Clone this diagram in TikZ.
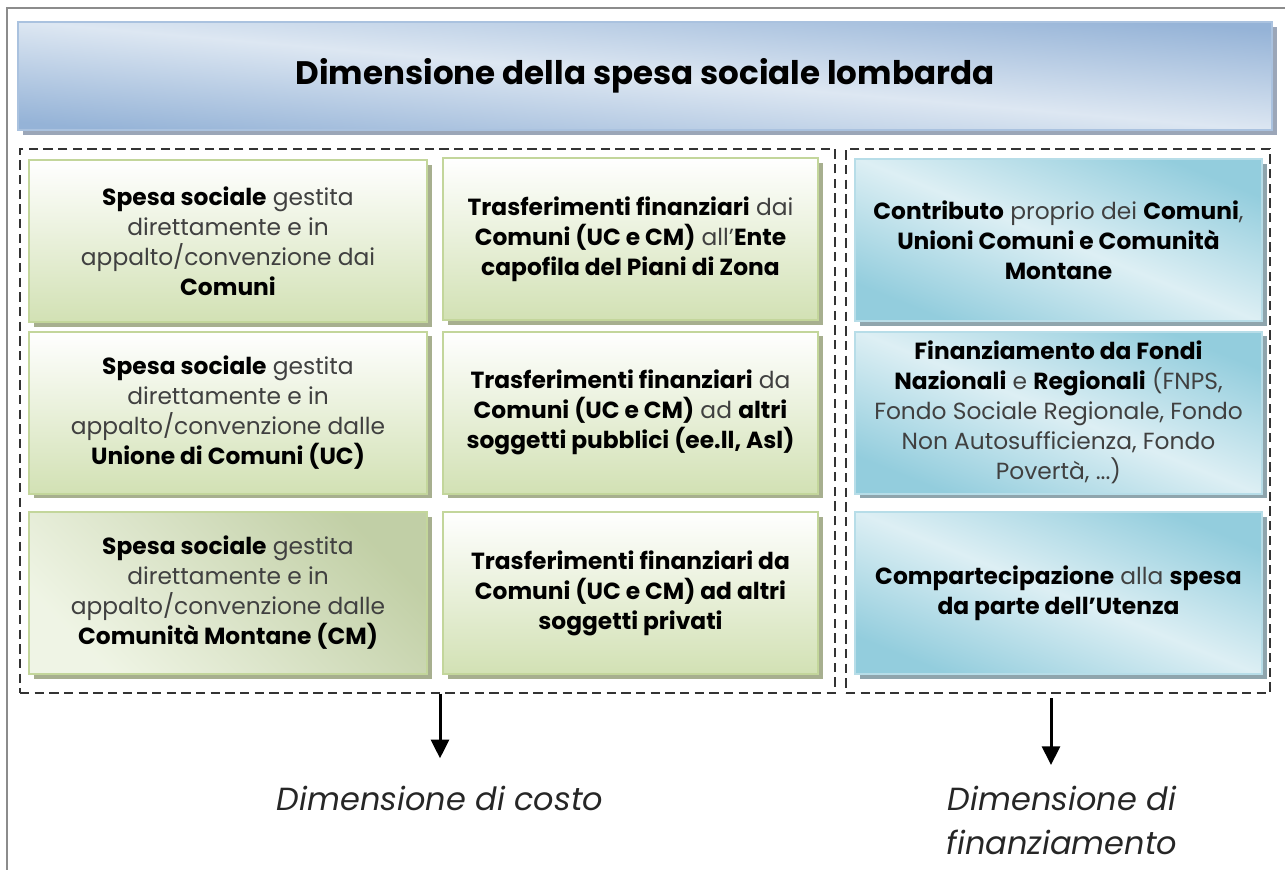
\documentclass[tikz,border=0pt]{standalone}
\usepackage{fontspec}
\setmainfont{Poppins}
\usetikzlibrary{shadows,arrows.meta}

\definecolor{framegray}{RGB}{140,140,140}
\definecolor{titledark}{RGB}{149,179,215}
\definecolor{titlelight}{RGB}{221,231,242}
\definecolor{titleshadow}{RGB}{155,166,184}
\definecolor{greendark}{RGB}{210,225,180}
\definecolor{greenline}{RGB}{195,214,155}
\definecolor{greenshadow}{RGB}{167,175,143}
\definecolor{bluedark}{RGB}{147,205,221}
\definecolor{bluelight}{RGB}{221,239,244}
\definecolor{blueline}{RGB}{183,221,232}
\definecolor{blueshadow}{RGB}{143,165,173}

\newcommand{\bt}[1]{\textbf{\color{black}#1}}

\tikzset{
  boxtext/.style={align=center, text=black!75, font=\fontsize{17.5}{22.5}\selectfont},
  titlebox/.style={draw=titledark!80, line width=1pt, top color=titledark, bottom color=titledark, middle color=titlelight, shading angle=-5,
    minimum width=940.5pt, minimum height=81pt,
    drop shadow={fill=titleshadow, opacity=1, shadow xshift=3.5pt, shadow yshift=-3.5pt},
    font=\fontsize{24.4}{28}\selectfont\bfseries},
  greenbox/.style={boxtext, draw=greenline, line width=1.5pt, top color=white, bottom color=greendark,
    minimum height=121.5pt,
    drop shadow={fill=greenshadow, opacity=1, shadow xshift=3.5pt, shadow yshift=-3.5pt}},
  bluebox/.style={boxtext, draw=blueline, line width=1.5pt, top color=bluedark, bottom color=bluedark, middle color=bluelight, shading angle=-22,
    minimum width=305.25pt, minimum height=121.5pt,
    drop shadow={fill=blueshadow, opacity=1, shadow xshift=3.5pt, shadow yshift=-3.5pt}},
  dashbox/.style={draw=black!80, line width=1pt, dash pattern=on 7pt off 4pt, minimum height=408pt},
  labeltext/.style={align=center, text=black!85, font=\fontsize{24}{33}\selectfont\itshape},
  arr/.style={-{Triangle[width=13.5pt,length=14pt]}, line width=2.25pt}
}

\begin{document}
\begin{tikzpicture}[x=0.75pt,y=0.75pt,yscale=-1,xscale=1]
\useasboundingbox (0,0) rectangle (1285,870);

%Straight Lines [frame]
\draw [framegray, line width=1.5pt] (7,870) -- (7,8) -- (1285,8) ;

%Shape: Rectangle [title]
\node [titlebox] (title) at (645,76) {Dimensione della spesa sociale lombarda};

%Shape: Rectangle [dashed groups]
\node [dashbox, minimum width=611.25pt] (costo) at (427.5,421) {};
\node [dashbox, minimum width=318pt] (fin) at (1058,421) {};

%Shape: Rectangle [column 1]
\node [greenbox, minimum width=298.5pt] (com) at (228,241) {\bt{Spesa sociale} gestita\\ direttamente e in\\ appalto/convenzione dai\\ \bt{Comuni}};
\node [greenbox, minimum width=298.5pt] (uc) at (228,412.5) {\bt{Spesa sociale} gestita\\ direttamente e in\\ appalto/convenzione dalle\\ \bt{Unione di Comuni (UC)}};
\node [greenbox, minimum width=298.5pt, top color=greendark!92!black, bottom color=greendark!35!white, shading angle=-45] (cm) at (228,593) {\bt{Spesa sociale} gestita\\ direttamente e in\\ appalto/convenzione dalle\\ \bt{Comunità Montane (CM)}};

%Shape: Rectangle [column 2]
\node [greenbox, minimum width=281.25pt] (ente) at (630.5,239) {\bt{Trasferimenti finanziari} dai\\ \bt{Comuni (UC e CM)} all’\bt{Ente}\\ \bt{capofila del Piani di Zona}};
\node [greenbox, minimum width=281.25pt] (pub) at (630.5,412.5) {\bt{Trasferimenti finanziari} da\\ \bt{Comuni (UC e CM)} ad \bt{altri}\\ \bt{soggetti pubblici (ee.ll, Asl)}};
\node [greenbox, minimum width=281.25pt] (priv) at (630.5,593) {\bt{Trasferimenti finanziari da}\\ \bt{Comuni (UC e CM) ad altri}\\ \bt{soggetti privati}};

%Shape: Rectangle [column 3]
\node [bluebox] (contr) at (1058.5,240) {\bt{Contributo} proprio dei \bt{Comuni},\\ \bt{Unioni Comuni e Comunità}\\ \bt{Montane}};
\node [bluebox] (fondi) at (1058.5,412.5) {\bt{Finanziamento da Fondi}\\ \bt{Nazionali} e \bt{Regionali} (FNPS,\\ Fondo Sociale Regionale, Fondo\\ Non Autosufficienza, Fondo\\ Povertà, ...)};
\node [bluebox] (utenza) at (1058.5,593) {\bt{Compartecipazione} alla \bt{spesa}\\ \bt{da parte dell’Utenza}};

% Text Node
\node [labeltext] (dcosto) at (440,798) {Dimensione di costo};
% Text Node
\node [labeltext] (dfin) at (1062,820) {Dimensione di\\ finanziamento};

%Straight Lines [arrows]
\draw [arr, shorten >=17pt] (costo.south -| dcosto.north) -- (dcosto.north) ;
\draw [arr, shorten <=3.5pt, shorten >=12pt] ([xshift=-5.25pt]fin.south) -- ([xshift=-5.25pt]fin.south |- dfin.north) ;

\end{tikzpicture}
\end{document}
